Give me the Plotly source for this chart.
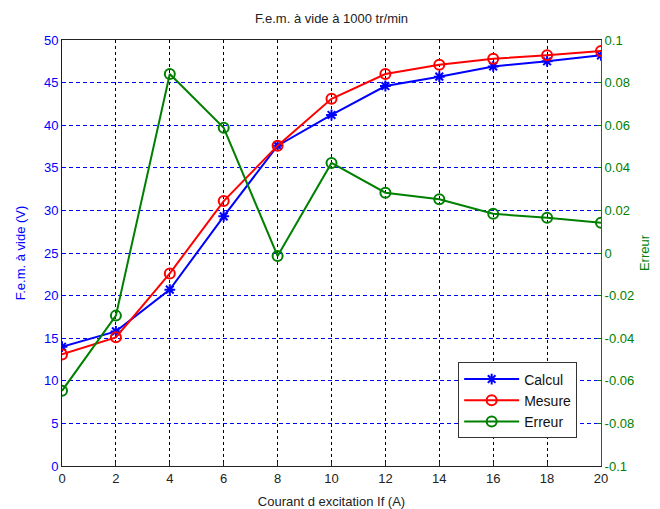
import plotly.graph_objects as go

courant = [0, 2, 4, 6, 8, 10, 12, 14, 16, 18, 20]
calcul = [14.0, 15.8, 20.7, 29.3, 37.6, 41.2, 44.6, 45.7, 46.9, 47.5, 48.2]
mesure = [13.1, 15.1, 22.6, 31.1, 37.6, 43.1, 46.0, 47.1, 47.8, 48.2, 48.7]
erreur = [-0.0647, -0.0294, 0.084, 0.0588, -0.0014, 0.0423, 0.0283, 0.0252, 0.0184, 0.0165, 0.0142]

left_ticks = [0, 5, 10, 15, 20, 25, 30, 35, 40, 45, 50]
right_ticks = [-0.1, -0.08, -0.06, -0.04, -0.02, 0, 0.02, 0.04, 0.06, 0.08, 0.1]
right_text = ["-0.1", "-0.08", "-0.06", "-0.04", "-0.02", "0", "0.02", "0.04", "0.06", "0.08", "0.1"]
x_ticks = [0, 2, 4, 6, 8, 10, 12, 14, 16, 18, 20]

FONT = "Liberation Sans, Arial, sans-serif"

fig = go.Figure()
fig.add_trace(go.Scatter(x=courant, y=calcul, name="Calcul", mode="lines+markers",
                         line=dict(color="#0000ff", width=2),
                         marker=dict(symbol="asterisk-open", size=9,
                                     line=dict(color="#0000ff", width=2))))
fig.add_trace(go.Scatter(x=courant, y=mesure, name="Mesure", mode="lines+markers",
                         line=dict(color="#ff0000", width=2),
                         marker=dict(symbol="circle-open", size=10,
                                     line=dict(color="#ff0000", width=2))))
fig.add_trace(go.Scatter(x=courant, y=erreur, name="Erreur", mode="lines+markers",
                         yaxis="y2",
                         line=dict(color="#008000", width=2),
                         marker=dict(symbol="circle-open", size=10,
                                     line=dict(color="#008000", width=2))))

fig.update_layout(
    width=660, height=509,
    margin=dict(l=54, r=67, t=32, b=51, autoexpand=False),
    paper_bgcolor="white", plot_bgcolor="white",
    font=dict(family=FONT, size=13, color="#222222"),
    title=dict(text="F.e.m. à vide à 1000 tr/min", x=0.5, xref="paper",
               y=1, yref="container", yanchor="top", pad=dict(t=6),
               font=dict(size=13, color="#222222")),
    showlegend=True,
    legend=dict(x=0.735, y=0.243, xanchor="left", yanchor="top",
                bgcolor="white", bordercolor="#333333", borderwidth=1,
                font=dict(size=14, color="#111111"), tracegroupgap=0,
                itemwidth=55),
    xaxis=dict(range=[0, 20], tickvals=x_ticks, showline=True, linecolor="#222222",
               linewidth=1, mirror=True, ticks="inside", ticklen=4, tickcolor="#222222",
               showgrid=True, gridcolor="#000000", griddash="3px,3px", gridwidth=1,
               zeroline=False, tickfont=dict(size=13, color="#222222"),
               title=dict(text="Courant d excitation If (A)", standoff=12,
                          font=dict(size=13, color="#222222"))),
    yaxis=dict(range=[0, 50], tickvals=left_ticks, showline=True, linecolor="#0000ff",
               linewidth=1, ticks="inside", ticklen=4, tickcolor="#0000ff",
               showgrid=True, gridcolor="#0000ff", griddash="4px,3px", gridwidth=1,
               zeroline=False, tickfont=dict(size=13, color="#0000ff"),
               title=dict(text="F.e.m. à vide (V)", standoff=15,
                          font=dict(size=13, color="#0000ff"))),
    yaxis2=dict(range=[-0.1, 0.1], tickvals=right_ticks, ticktext=right_text,
                overlaying="y", side="right", showline=True, linecolor="#008000",
                linewidth=1, ticks="inside", ticklen=4, tickcolor="#008000",
                showgrid=False, zeroline=False, tickfont=dict(size=13, color="#008000"),
                title=dict(text="Erreur", standoff=6,
                           font=dict(size=13, color="#008000"))),
)

fig.write_html("out.html")
